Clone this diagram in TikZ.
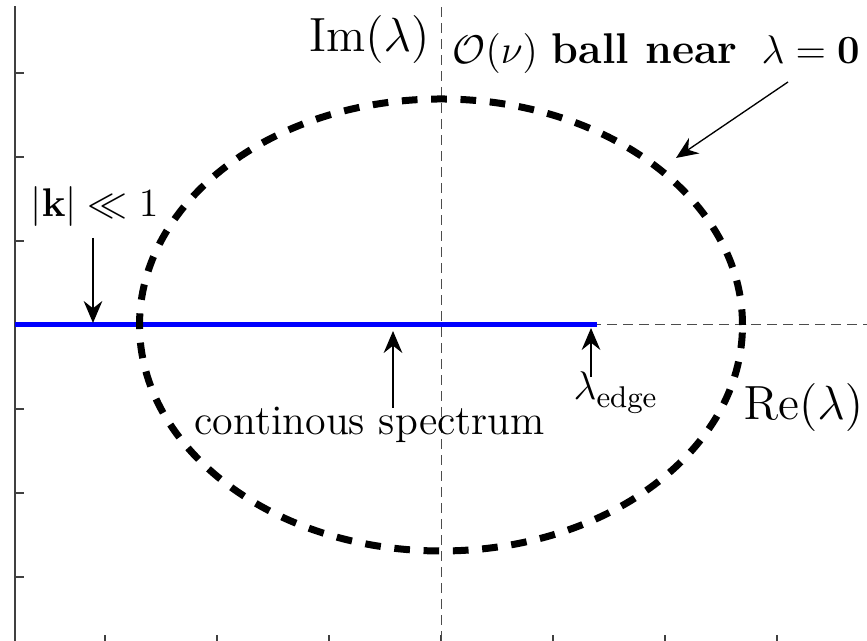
\documentclass[tikz,border=0pt]{standalone}
\usepackage{amsmath,amssymb,bm}
\usetikzlibrary{arrows.meta}
\begin{document}
\begin{tikzpicture}[x=0.3pt,y=0.3pt,
  axisline/.style={black!75,line width=0.35pt},
  axisdash/.style={black!70,line width=0.3pt,dash pattern=on 3pt off 1.8pt},
  ticks/.style={black!75,line width=0.35pt},
  spec/.style={blue,line width=1.5pt},
  ball/.style={black,line width=2.1pt,dash pattern=on 4.7pt off 4.1pt},
  pointer/.style={black,line width=0.4pt,-{Stealth[length=6.6pt,width=5.6pt,inset=2.2pt]}},
  lbl/.style={inner sep=0pt,font=\fontsize{12.6}{15}\selectfont},
  axlbl/.style={inner sep=0pt,font=\fontsize{14.4}{17}\selectfont}]
\useasboundingbox (0,0) rectangle (867,641);
% axes
\draw[axisline] (15,0) -- (15,635);
\foreach \yy in {64,148,232,316,400,484,568} \draw[ticks] (15,\yy) -- (24,\yy);
\foreach \xx in {105,217,329,441,553,665,777} \draw[ticks] (\xx,0) -- (\xx,6);
\draw[axisdash] (441,0) -- (441,635);
\draw[axisdash] (15,316) -- (867,316);
% spectrum
\coordinate (sL) at (15,316);
\coordinate (sR) at (597,316);
\draw[spec] (sL) -- (sR);
% ball
\draw[ball] (441,316) ellipse [x radius=301.5, y radius=226];
% labels
\node[axlbl,anchor=base east] (im) at (430,589) {$\mathrm{Im}(\lambda)$};
\node[lbl,anchor=base west,font=\fontsize{12.9}{15}\selectfont] (bl) at (452,577) {$\mathcal{O}(\nu)$ \textbf{ball near}\hspace{3pt} $\lambda=\bm{0}$};
\node[lbl,anchor=base west] (kk) at (30,424) {$|\mathbf{k}|\ll 1$};
\node[lbl,anchor=base west] (cs) at (194,206) {continous spectrum};
\node[lbl,anchor=base west] (ed) at (573,241) {$\lambda_{\mathrm{edge}}$};
\node[axlbl,anchor=base west] (re) at (743,221) {$\mathrm{Re}(\lambda)$};
% arrows
\coordinate (kA) at (93,403); \coordinate (kB) at (93,318);
\coordinate (cA) at (393,233); \coordinate (cB) at (393,310);
\coordinate (eA) at (591,264); \coordinate (eB) at (591,313);
\coordinate (bA) at (788,559); \coordinate (bB) at (676,483);
\draw[pointer] (kA) -- (kB);
\draw[pointer] (cA) -- (cB);
\draw[pointer] (eA) -- (eB);
\draw[pointer] (bA) -- (bB);
\end{tikzpicture}
\end{document}
